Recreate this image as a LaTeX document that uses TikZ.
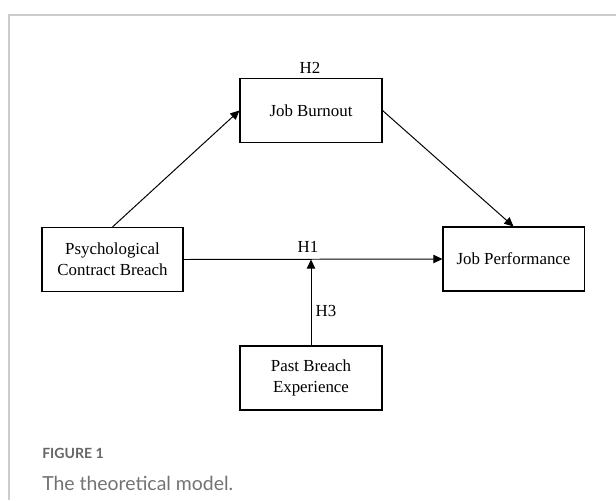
\documentclass[tikz,border=0pt]{standalone}
\usepackage{fontspec}
\setmainfont{Liberation Serif}
\newfontfamily\capfont{Lato}
\usetikzlibrary{arrows.meta}

\begin{document}
\begin{tikzpicture}[x=0.025cm, y=-0.025cm,
    box/.style={draw, line width=0.75pt, inner sep=0pt, minimum width=3.55cm,
      minimum height=1.6cm, align=center, font=\fontsize{12}{15}\selectfont},
    lab/.style={font=\fontsize{12}{14}\selectfont},
    link/.style={line width=0.7pt, -{Triangle[length=6.5pt,width=6pt]}}]
    \useasboundingbox (0, 0) rectangle (616, 500);

    % frame
    \draw [black!20, line width=0.8pt] (616, 15) -- (9, 15) -- (9, 500);

    \node [box] (burnout) at (311, 110.5) {Job Burnout};
    \node [box, minimum width=3.525cm] (breach) at (112.5, 259.5) {Psychological\\Contract Breach};
    \node [box, minimum width=3.525cm] (perf) at (513.5, 259) {Job Performance};
    \node [box] (past) at (311, 378) {Past Breach\\Experience};

    \coordinate (h1) at (past.north |- breach.east);

    \draw [link] (breach.north) to (burnout.west);
    \draw [link] (burnout.east) to (perf.north);
    \draw [link] (breach.east) to (perf.west);
    \draw [link] (past.north) to (h1);

    \node [lab] (l2) at (310, 68) {H2};
    \node [lab] (l1) at (308, 247) {H1};
    \node [lab] (l3) at (326, 311) {H3};

    % caption
    \node [anchor=west, inner sep=0pt, text=black!60,
      font=\capfont\bfseries\fontsize{10}{12}\selectfont] (fig) at (42, 453) {FIGURE 1};
    \node [anchor=west, inner sep=0pt, text=black!55,
      font=\capfont\fontsize{13.8}{16}\selectfont] (cap) at (42, 483) {The theoretical model.};
\end{tikzpicture}
\end{document}
